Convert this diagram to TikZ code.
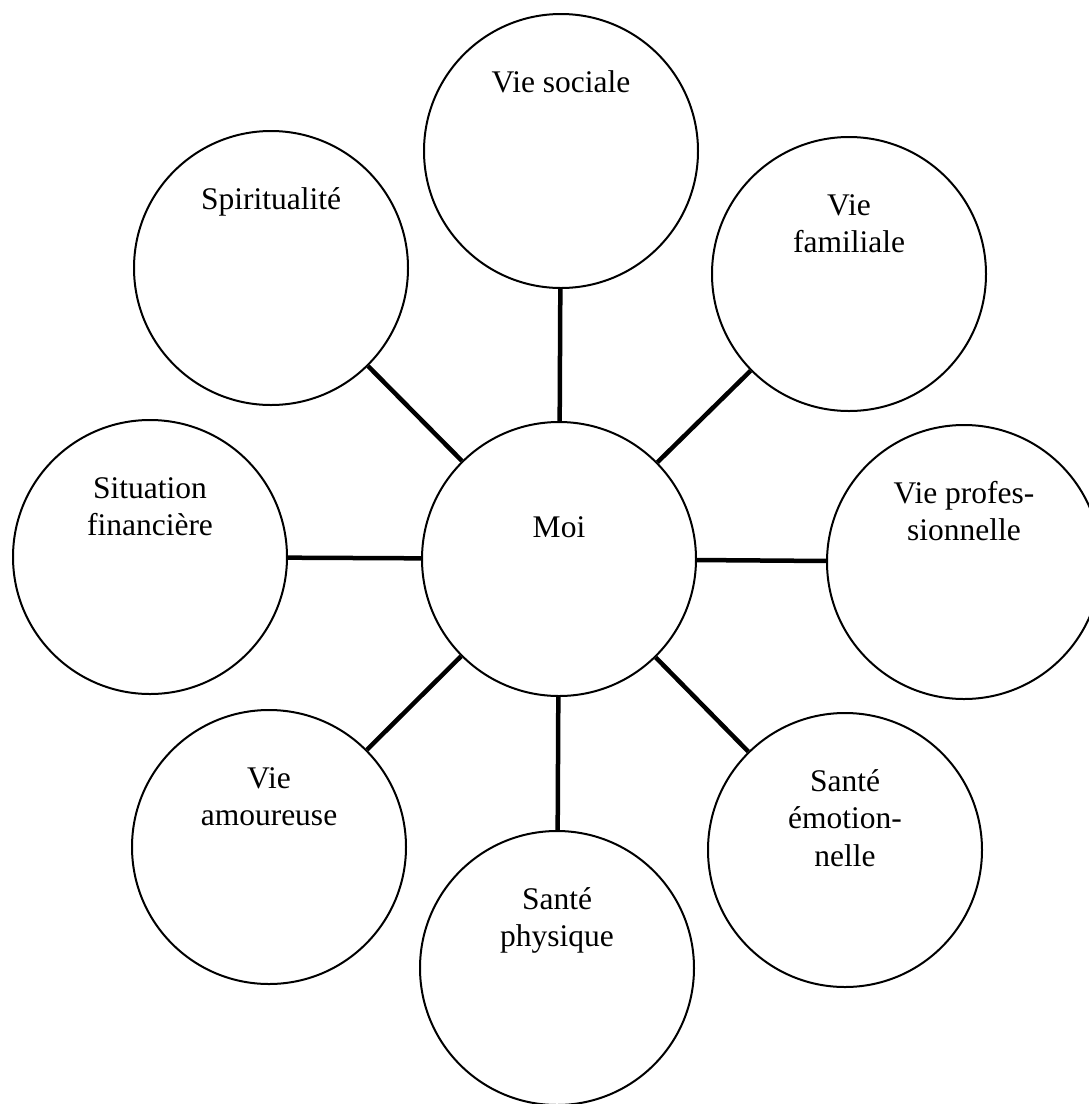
\documentclass[tikz,border=0pt]{standalone}
\usepackage{fontspec}
\setmainfont{Liberation Serif}
\usepackage{tikz}
\usetikzlibrary{calc}
\newcommand{\topstrut}{\rule{0pt}{25pt}}

\begin{document}
\begin{tikzpicture}[x=1pt,y=1pt,
  bubble/.style={circle, draw=black, line width=2pt, minimum size=274pt, inner sep=0pt},
  lbl/.style={font=\fontsize{31.5}{37.5}\selectfont, align=center, inner sep=0pt, anchor=north},
  link/.style={draw=black, line width=4.5pt}]
\fill[white] (0,0) rectangle (1088,-1104);
\useasboundingbox (0,0) rectangle (1088,-1104);
% circles
\node[bubble] (moi) at (559,-559) {};
\node[bubble] (soc) at (561,-151) {};
\node[bubble] (fam) at (849,-274) {};
\node[bubble] (pro) at (964,-562) {};
\node[bubble] (emo) at (845,-850) {};
\node[bubble] (phy) at (557,-968) {};
\node[bubble] (amo) at (269,-847) {};
\node[bubble] (fin) at (150,-557) {};
\node[bubble] (spi) at (271,-268) {};
% texts
\node[lbl] (moi-t) at (moi.center) [yshift=47pt] {\topstrut Moi};
\node[lbl] (soc-t) at (soc.center) [yshift=84pt] {\topstrut Vie sociale};
\node[lbl] (fam-t) at (fam.center) [yshift=84pt] {\topstrut Vie\\familiale};
\node[lbl] (pro-t) at (pro.center) [yshift=84pt] {\topstrut Vie profes-\\sionnelle};
\node[lbl] (emo-t) at (emo.center) [yshift=84pt] {\topstrut Santé\\émotion-\\nelle};
\node[lbl] (phy-t) at (phy.center) [yshift=84pt] {\topstrut Santé\\physique};
\node[lbl] (amo-t) at (amo.center) [yshift=84pt] {\topstrut Vie\\amoureuse};
\node[lbl] (fin-t) at (fin.center) [yshift=84pt] {\topstrut Situation\\financière};
\node[lbl] (spi-t) at (spi.center) [yshift=84pt] {\topstrut Spiritualité};
% links
\draw[link] (moi) -- (soc);
\draw[link] (moi) -- (fam);
\draw[link] (moi) -- (pro);
\draw[link] (moi) -- (emo);
\draw[link] (moi) -- (phy);
\draw[link] (moi) -- (amo);
\draw[link] (moi) -- (fin);
\draw[link] (moi) -- (spi);
\end{tikzpicture}
\end{document}
